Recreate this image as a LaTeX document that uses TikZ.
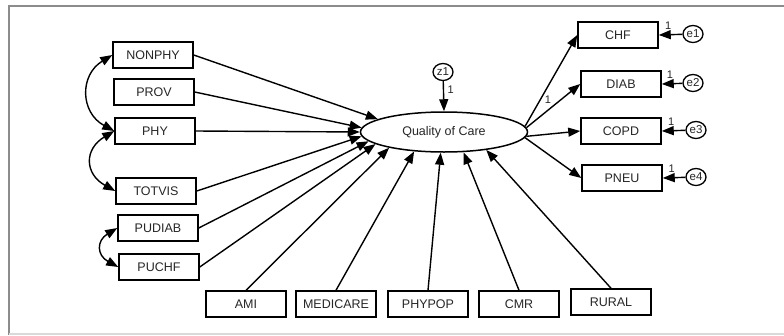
\documentclass[tikz,border=0pt]{standalone}
\usepackage{fontspec}
\setmainfont{Liberation Sans}
\usetikzlibrary{shapes,arrows.meta}

\begin{document}
\begin{tikzpicture}[x=1pt,y=1pt,
      every node/.style={font=\fontsize{12.5}{14}\selectfont,text=black!85},
      var/.style={draw,line width=1.5pt,minimum width=80pt,minimum height=26pt,inner sep=0pt},
      err/.style={ellipse,draw,line width=1.3pt,minimum width=20pt,minimum height=17pt,inner sep=0pt,font=\fontsize{11.5}{12}\selectfont},
      arr/.style={-{Triangle[length=12pt,width=9pt]},line width=1.4pt},
      cov/.style={{Triangle[length=12pt,width=9pt]}-{Triangle[length=12pt,width=9pt]},line width=1.4pt},
      one/.style={font=\fontsize{11}{12}\selectfont}]
    \useasboundingbox (0,0) rectangle (784,-335);
    \draw[black!45,line width=1.5pt] (9,-335) -- (9,-6) -- (784,-6);
    \draw[black!15,line width=1.5pt] (9,-334) -- (784,-334);

    \node[ellipse,draw,line width=1.5pt,minimum width=167pt,minimum height=40pt,inner sep=0pt] (qoc) at (444,-132) {Quality of Care};
    \node[err] (z1) at (443,-72) {z1};

    \node[var] (nonphy) at (153,-55) {NONPHY};
    \node[var] (prov) at (154,-92) {PROV};
    \node[var] (phy) at (155,-131) {PHY};
    \node[var] (totvis) at (156,-191) {TOTVIS};
    \node[var] (pudiab) at (158,-228) {PUDIAB};
    \node[var] (puchf) at (159,-267) {PUCHF};

    \node[var] (ami) at (246,-304) {AMI};
    \node[var] (medicare) at (336,-304) {MEDICARE};
    \node[var] (phypop) at (428,-304) {PHYPOP};
    \node[var] (cmr) at (519,-304) {CMR};
    \node[var] (rural) at (611,-302) {RURAL};

    \node[var] (chf) at (618,-35) {CHF};
    \node[var] (diab) at (621,-84) {DIAB};
    \node[var] (copd) at (621,-131) {COPD};
    \node[var] (pneu) at (622,-178) {PNEU};

    \node[err] (e1) at (693,-34) {e1};
    \node[err] (e2) at (693,-83) {e2};
    \node[err] (e3) at (696,-130) {e3};
    \node[err] (e4) at (696,-177) {e4};

    \draw[arr] (nonphy.east) -- (qoc.169.9);
    \draw[arr] (prov.east) -- (qoc.177.2);
    \draw[arr] (phy.east) -- (qoc.180);
    \draw[arr] (totvis.east) -- (qoc.183.5);
    \draw[arr] (pudiab.east) -- (qoc.187.1);
    \draw[arr] (puchf.east) -- (qoc.190.5);

    \draw[arr] (ami.north) -- (qoc.196.7);
    \draw[arr] (medicare.north) -- (qoc.213.9);
    \draw[arr] (phypop.north) -- (qoc.261.5);
    \draw[arr] (cmr.north) -- (qoc.314.3);
    \draw[arr] (rural.north) -- (qoc.337.6);

    \draw[arr] (z1) -- node[one,right,pos=0.3] {1} (qoc.north);

    \draw[arr] (qoc.4.7) -- (chf.west);
    \draw[arr] (qoc.3.4) -- node[one,above=3pt,pos=0.4] {1} (diab.west);
    \draw[arr] (qoc.-3.4) -- (copd.west);
    \draw[arr] (qoc.-4.7) -- (pneu.west);

    \draw[arr] (e1) -- node[one,above=1pt,pos=0.6] {1} (chf.east);
    \draw[arr] (e2) -- node[one,above=1pt,pos=0.6] {1} (diab.east);
    \draw[arr] (e3) -- node[one,above=1pt,pos=0.6] {1} (copd.east);
    \draw[arr] (e4) -- node[one,above=1pt,pos=0.6] {1} (pneu.east);

    \draw[cov] (nonphy.west) to[bend right=60,looseness=1.3] (phy.west);
    \draw[cov] (phy.west) to[bend right=60,looseness=1.5] (totvis.west);
    \draw[cov] (pudiab.west) to[bend right=60,looseness=1.6] (puchf.west);
  \end{tikzpicture}
\end{document}
